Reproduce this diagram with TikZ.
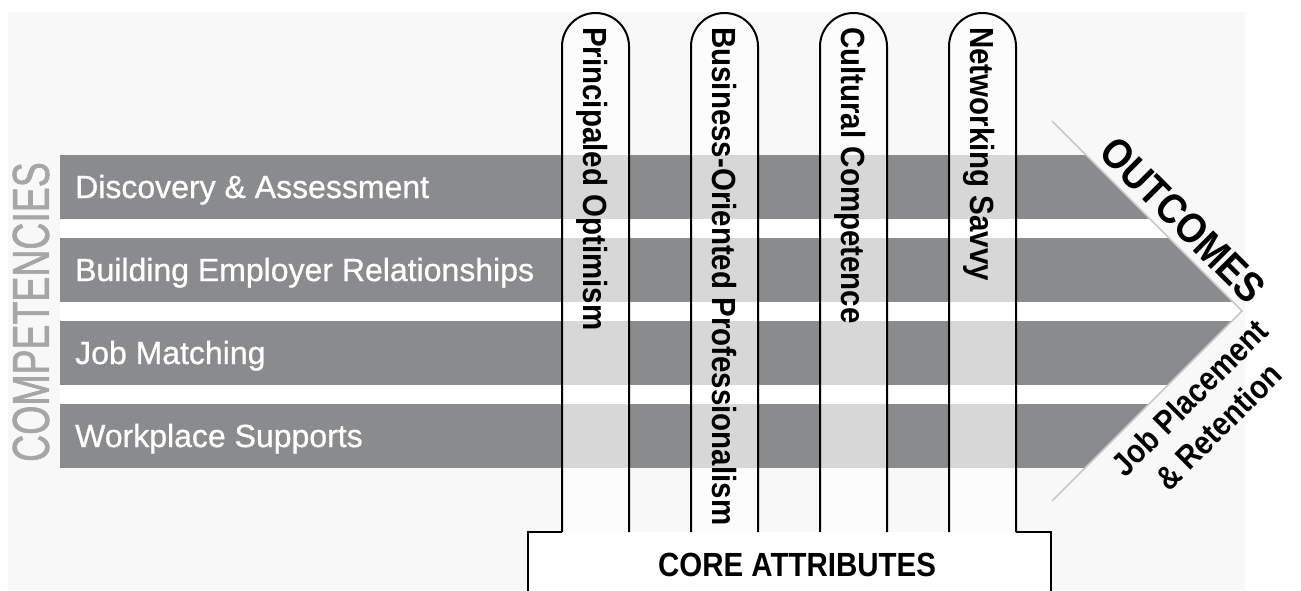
\documentclass[tikz,border=0pt]{standalone}
\usepackage{fontspec}
\setmainfont{Liberation Sans}
\newfontfamily\bandfont[FakeBold=0.8]{Liberation Sans}
\newfontfamily\narrowfont[FakeStretch=0.88]{Liberation Sans}
\newfontfamily\condfont[FakeStretch=0.72, FakeBold=1.2]{Liberation Sans}

\definecolor{paper}{HTML}{F8F8F8}
\definecolor{bandgray}{HTML}{8A8B8D}
\definecolor{labelgray}{HTML}{A6A6A6}
\definecolor{edgegray}{HTML}{C8C8C8}

\tikzstyle{band} = [fill=bandgray]
\tikzstyle{gap} = [fill=white]
\tikzstyle{bandlabel} = [anchor=base west, inner sep=0pt, text=white, font={\bandfont\fontsize{32}{38}\selectfont}]
\tikzstyle{pillar} = [draw=black, line width=2pt, rounded corners=33.5pt, fill=white, fill opacity=0.66]
\tikzstyle{attribute} = [rotate=-90, anchor=base west, inner sep=0pt, font={\narrowfont\bfseries\fontsize{33.5}{40}\selectfont}]
\tikzstyle{outcome} = [inner sep=0pt, align=center, font={\narrowfont\bfseries\fontsize{33}{41}\selectfont}]

\begin{document}
\begin{tikzpicture}[x=1pt,y=-1pt]
	\useasboundingbox (0,0) rectangle (1301,590);
	\fill[paper] (8,12) rectangle (1245,590);

	% arrow head of the bands
	\coordinate (headtop) at (1052,121);
	\coordinate (tip) at (1242,311);
	\coordinate (headbot) at (1052,501);

	\begin{scope}
		\clip (60,121) -- (headtop) -- (tip) -- (headbot) -- (60,501) -- cycle;
		\fill[band] (60,155) rectangle (1300,219);
		\fill[gap] (60,219) rectangle (1300,238);
		\fill[band] (60,238) rectangle (1300,302);
		\fill[gap] (60,302) rectangle (1300,321);
		\fill[band] (60,321) rectangle (1300,385);
		\fill[gap] (60,385) rectangle (1300,404);
		\fill[band] (60,404) rectangle (1300,468);
	\end{scope}
	\draw[edgegray, line width=1.5pt] (headtop) -- (tip) -- (headbot);

	\node[bandlabel] (discovery) at (75,198) {Discovery \& Assessment};
	\node[bandlabel] (employer) at (75,281) {Building Employer Relationships};
	\node[bandlabel] (matching) at (75,364) {Job Matching};
	\node[bandlabel] (supports) at (75,447) {Workplace Supports};
	\node[rotate=90, inner sep=0pt, text=labelgray, font={\condfont\fontsize{52}{60}\selectfont}] (competencies) at (31,312) {COMPETENCIES};

	% base and pillars
	\fill[white] (528,532) rectangle (1051,590);
	\draw[pillar] (562,532) -- (562,13) -- (629,13) -- (629,532);
	\draw[pillar] (691,532) -- (691,13) -- (758,13) -- (758,532);
	\draw[pillar] (820,532) -- (820,13) -- (887,13) -- (887,532);
	\draw[pillar] (949,532) -- (949,13) -- (1016,13) -- (1016,532);
	\draw[line width=2pt] (528,595) -- (528,532) -- (562,532);
	\draw[line width=2pt] (1016,532) -- (1051,532) -- (1051,595);

	\node[attribute] (optimism) at (583.5,27) {Principaled Optimism};
	\node[attribute] (professionalism) at (712.5,27) {Business-Oriented Professionalism};
	\node[attribute] (cultural) at (841.5,27) {Cultural Competence};
	\node[attribute] (networking) at (970.5,27) {Networking Savvy};
	\node[inner sep=0pt, font={\narrowfont\bfseries\fontsize{33.5}{40}\selectfont}] (core) at (797,565) {CORE ATTRIBUTES};

	\node[outcome, rotate=-45, font={\narrowfont\bfseries\fontsize{42}{48}\selectfont}] (outcomes) at (1183,220) {OUTCOMES};
	\node[outcome, rotate=45] (placement) at (1204,412) {Job Placement\\\& Retention};
\end{tikzpicture}
\end{document}
